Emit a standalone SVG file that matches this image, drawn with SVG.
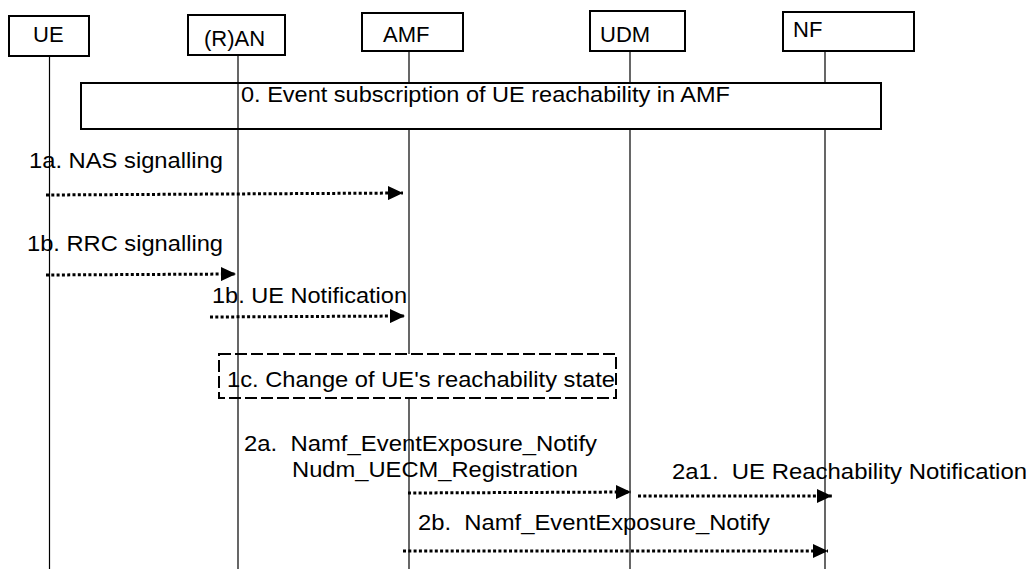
<svg xmlns="http://www.w3.org/2000/svg" width="1028" height="569" viewBox="0 0 1028 569">
<style>
.box{fill:#fff;stroke:#000;stroke-width:2}
.life{stroke:#000;stroke-width:1.2;fill:none}
.lbl{font-family:"Liberation Sans",Arial,sans-serif;font-size:22px;fill:#000}
.msg{font-family:"Liberation Sans",Arial,sans-serif;font-size:22px;fill:#000;white-space:pre}
.arr{stroke:#000;stroke-width:3;stroke-dasharray:3 2.3;fill:none;marker-end:url(#ah)}
.dbox{fill:#fff;stroke:#000;stroke-width:2;stroke-dasharray:12 4}
</style>
<defs>
<marker id="ah" markerUnits="userSpaceOnUse" viewBox="0 0 15 14" refX="15" refY="7" markerWidth="15" markerHeight="14" orient="auto">
<path d="M0,0 L15,7 L0,14 Z" fill="#000"/>
</marker>
</defs>
<rect width="1028" height="569" fill="#fff"/>
<g id="lifelines">
<line class="life" x1="49.5" y1="57" x2="49.5" y2="569"/>
<line class="life" x1="409" y1="51" x2="409" y2="569"/>
<line class="life" x1="630" y1="51" x2="630" y2="569"/>
<line class="life" x1="825" y1="51" x2="825" y2="569"/>
</g>
<g id="node-UE"><rect class="box" x="9" y="16" width="80" height="40"/><text class="lbl" x="33" y="42">UE</text></g>
<g id="node-RAN"><rect class="box" x="188" y="15" width="97" height="40"/><text class="lbl" x="204" y="46">(R)AN</text></g>
<g id="node-AMF"><rect class="box" x="362" y="13" width="101" height="38"/><text class="lbl" x="383" y="42">AMF</text></g>
<g id="node-UDM"><rect class="box" x="590" y="11" width="95" height="40"/><text class="lbl" x="600" y="42">UDM</text></g>
<g id="node-NF"><rect class="box" x="783" y="12" width="131" height="39"/><text class="lbl" x="793" y="37">NF</text></g>
<g id="step0"><rect class="box" x="81" y="83" width="800" height="46"/><text class="msg" x="241" y="102" textLength="489" lengthAdjust="spacingAndGlyphs">0. Event subscription of UE reachability in AMF</text></g>
<g id="step1c"><rect class="dbox" x="219" y="354" width="397" height="44"/></g>
<g id="lifeline-RAN"><line class="life" x1="238" y1="56" x2="238" y2="569"/></g>
<g id="step1c-label"><text class="msg" x="227" y="387" textLength="388" lengthAdjust="spacingAndGlyphs">1c. Change of UE's reachability state</text></g>
<g id="connectors">
<line class="arr" x1="46" y1="195" x2="403" y2="193"/>
<line class="arr" x1="46" y1="275" x2="236" y2="274"/>
<line class="arr" x1="210" y1="317" x2="405" y2="316"/>
<line class="arr" x1="408" y1="493" x2="631" y2="492"/>
<line class="arr" x1="638" y1="496" x2="832" y2="496"/>
<line class="arr" x1="403" y1="551" x2="828" y2="551"/>
</g>
<g id="labels">
<text class="msg" x="29" y="168" textLength="194" lengthAdjust="spacingAndGlyphs">1a. NAS signalling</text>
<text class="msg" x="27" y="251" textLength="196" lengthAdjust="spacingAndGlyphs">1b. RRC signalling</text>
<text class="msg" x="212" y="303" textLength="195" lengthAdjust="spacingAndGlyphs">1b. UE Notification</text>
<text class="msg" x="244" y="451" textLength="353" lengthAdjust="spacingAndGlyphs">2a.  Namf_EventExposure_Notify</text>
<text class="msg" x="292" y="477" textLength="286" lengthAdjust="spacingAndGlyphs">Nudm_UECM_Registration</text>
<text class="msg" x="672" y="479" textLength="355" lengthAdjust="spacingAndGlyphs">2a1.  UE Reachability Notification</text>
<text class="msg" x="418" y="530" textLength="352" lengthAdjust="spacingAndGlyphs">2b.  Namf_EventExposure_Notify</text>
</g>
</svg>
